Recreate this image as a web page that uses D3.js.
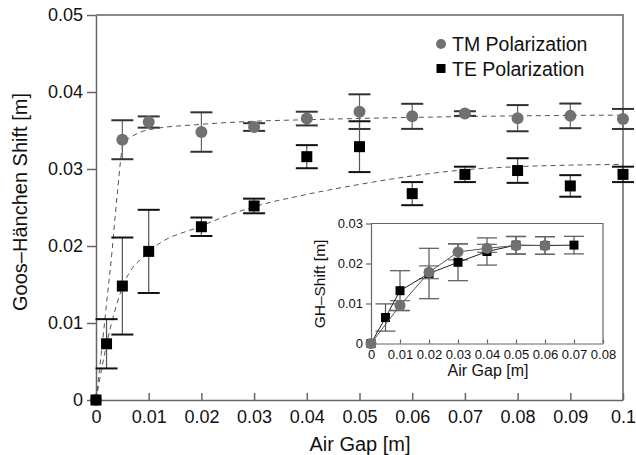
<!DOCTYPE html>
<html>
<head>
<meta charset="utf-8">
<script src="https://cdn.jsdelivr.net/npm/d3@7"></script>
<style>
  body { margin: 0; background: #fff; }
  svg { display: block; font-family: "Liberation Sans", Arial, sans-serif; }
</style>
</head>
<body>
<svg id="chart" width="636" height="455"></svg>
<script>
// main plot data
const tmX   = [0, 0.005, 0.01, 0.02, 0.03, 0.04, 0.05, 0.06, 0.07, 0.08, 0.09, 0.1];
const tmY   = [0, 0.0338, 0.0361, 0.0348, 0.03545, 0.03655, 0.03745, 0.03684, 0.0372, 0.0366, 0.0369, 0.0365];
const tmErr = [0, 0.00253, 0.00073, 0.00256, 0.0005, 0.00089, 0.00225, 0.00163, 0.0003, 0.0017, 0.0016, 0.0013];

const teX   = [0, 0.002, 0.005, 0.01, 0.02, 0.03, 0.04, 0.05, 0.06, 0.07, 0.08, 0.09, 0.1];
const teY   = [0, 0.0073, 0.0148, 0.0193, 0.0225, 0.0252, 0.0316, 0.0329, 0.0268, 0.0293, 0.0298, 0.0278, 0.0293];
const teErr = [0, 0.0032, 0.0063, 0.0054, 0.0012, 0.00095, 0.0015, 0.0033, 0.0015, 0.001, 0.0016, 0.0014, 0.001];

// dashed fit curves
const tmFitX = [0, 0.001, 0.002, 0.003, 0.004, 0.0052, 0.007, 0.01, 0.02, 0.03, 0.04, 0.06, 0.08, 0.1];
const tmFitY = [0, 0.006, 0.0125, 0.019, 0.0265, 0.0333, 0.0343, 0.0351, 0.0358, 0.0362, 0.0364, 0.0367, 0.0369, 0.037];
const teFitX = [0, 0.002, 0.005, 0.01, 0.02, 0.03, 0.04, 0.05, 0.06, 0.07, 0.08, 0.09, 0.1];
const teFitY = [0, 0.0072, 0.0146, 0.0192, 0.0226, 0.0251, 0.0267, 0.028, 0.0291, 0.0299, 0.0303, 0.0305, 0.0306];

// inset data
const inTmX   = [0, 0.01, 0.02, 0.03, 0.04, 0.05, 0.06];
const inTmY   = [0, 0.0095, 0.0178, 0.0229, 0.0238, 0.0245, 0.0245];
const inTmErr = [0, 0.0012, 0.0016, 0.002, 0.001, 0.0022, 0.0022];
const inTeX   = [0, 0.005, 0.01, 0.02, 0.03, 0.04, 0.05, 0.06, 0.07];
const inTeY   = [0, 0.0065, 0.0132, 0.0175, 0.0203, 0.023, 0.0246, 0.0245, 0.0246];
const inTeErr = [0, 0.0034, 0.005, 0.0063, 0.0046, 0.0034, 0.0022, 0.0022, 0.0022];

const mainXTicks = [0, 0.01, 0.02, 0.03, 0.04, 0.05, 0.06, 0.07, 0.08, 0.09, 0.1];
const mainYTicks = [0, 0.01, 0.02, 0.03, 0.04, 0.05];
const inXTicks = [0, 0.01, 0.02, 0.03, 0.04, 0.05, 0.06, 0.07, 0.08];
const inYTicks = [0, 0.01, 0.02, 0.03];

const TM_COL = "#717171";
const AX_COL = "#666";
const fmt = d => d3.format(".2~f")(d);

const svg = d3.select("#chart");

// ---- main plot ----
const x = d3.scaleLinear().domain([0, 0.1]).range([96, 623]);
const y = d3.scaleLinear().domain([0, 0.05]).range([400, 15]);

const zip = (xs, ys, es) => xs.map((v, i) => ({ x: v, y: ys[i], e: es ? es[i] : 0 }));

// frame (top + right)
svg.append("path")
    .attr("d", `M${x(0)},${y(0.05)}H${x(0.1)}V${y(0)}`)
    .attr("fill", "none").attr("stroke", AX_COL).attr("stroke-width", 1.5);

const xAxis = svg.append("g")
    .attr("transform", `translate(0,${y(0)})`)
    .call(d3.axisBottom(x).tickValues(mainXTicks).tickFormat(fmt).tickSize(-7).tickSizeOuter(0).tickPadding(10));
const yAxis = svg.append("g")
    .attr("transform", `translate(${x(0)},0)`)
    .call(d3.axisLeft(y).tickValues(mainYTicks).tickFormat(fmt).tickSize(9).tickSizeOuter(0).tickPadding(4));

[xAxis, yAxis].forEach(g => {
    g.select(".domain").attr("stroke", AX_COL).attr("stroke-width", 1.5);
    g.selectAll(".tick line").attr("stroke", AX_COL).attr("stroke-width", 1.5);
    g.selectAll(".tick text").attr("font-size", 18).attr("fill", "#111");
});

svg.append("text")
    .attr("x", 360).attr("y", 451)
    .attr("text-anchor", "middle").attr("font-size", 20).attr("fill", "#111")
    .text("Air Gap [m]");
svg.append("text")
    .attr("transform", `translate(27,202) rotate(-90)`)
    .attr("text-anchor", "middle").attr("font-size", 20).attr("fill", "#111")
    .text("Goos–Hänchen Shift [m]");

// fits
const fitLine = d3.line().x(d => x(d.x)).y(d => y(d.y)).curve(d3.curveMonotoneX);
[[tmFitX, tmFitY], [teFitX, teFitY]].forEach(([fx, fy]) => {
    svg.append("path")
        .datum(zip(fx, fy))
        .attr("d", fitLine)
        .attr("fill", "none").attr("stroke", "#555")
        .attr("stroke-width", 1).attr("stroke-dasharray", "5,4");
});

function errorBars(g, data, xs, ys, capW, vCol, cCol, cW) {
    const eb = g.append("g").selectAll("g")
        .data(data.filter(d => d.e > 0))
        .join("g");
    eb.append("line")
        .attr("x1", d => xs(d.x)).attr("x2", d => xs(d.x))
        .attr("y1", d => ys(d.y + d.e)).attr("y2", d => ys(d.y - d.e))
        .attr("stroke", vCol).attr("stroke-width", 1.2);
    [1, -1].forEach(s => {
        eb.append("line")
            .attr("x1", d => xs(d.x) - capW).attr("x2", d => xs(d.x) + capW)
            .attr("y1", d => ys(d.y + s * d.e)).attr("y2", d => ys(d.y + s * d.e))
            .attr("stroke", cCol).attr("stroke-width", cW);
    });
}

const tmData = zip(tmX, tmY, tmErr);
const teData = zip(teX, teY, teErr);

errorBars(svg, tmData, x, y, 11, "#666", "#333", 2);
errorBars(svg, teData, x, y, 11, "#555", "#111", 2);

svg.append("g").selectAll("circle")
    .data(tmData).join("circle")
    .attr("cx", d => x(d.x)).attr("cy", d => y(d.y)).attr("r", 6)
    .attr("fill", TM_COL);
svg.append("g").selectAll("rect")
    .data(teData).join("rect")
    .attr("x", d => x(d.x) - 5.5).attr("y", d => y(d.y) - 5.5)
    .attr("width", 11).attr("height", 11).attr("fill", "#000");

// legend
const leg = svg.append("g");
leg.append("circle").attr("cx", 441).attr("cy", 44).attr("r", 5).attr("fill", TM_COL);
leg.append("rect").attr("x", 436.5).attr("y", 64).attr("width", 9).attr("height", 9).attr("fill", "#000");
leg.append("text").attr("x", 452).attr("y", 50.5).attr("font-size", 19.5).attr("fill", "#111").text("TM Polarization");
leg.append("text").attr("x", 452).attr("y", 75.5).attr("font-size", 19.5).attr("fill", "#111").text("TE Polarization");

// ---- inset ----
const ix = d3.scaleLinear().domain([0, 0.08]).range([371, 603]);
const iy = d3.scaleLinear().domain([0, 0.03]).range([343.5, 223.5]);
const inset = svg.append("g");

inset.append("rect")
    .attr("x", ix(0)).attr("y", iy(0.03))
    .attr("width", ix(0.08) - ix(0)).attr("height", iy(0) - iy(0.03))
    .attr("fill", "#fff");
inset.append("path")
    .attr("d", `M${ix(0)},${iy(0.03)}H${ix(0.08)}V${iy(0)}`)
    .attr("fill", "none").attr("stroke", AX_COL).attr("stroke-width", 1.2);

const ixAxis = inset.append("g")
    .attr("transform", `translate(0,${iy(0)})`)
    .call(d3.axisBottom(ix).tickValues(inXTicks).tickFormat(fmt).tickSize(-4).tickSizeOuter(0).tickPadding(6));
const iyAxis = inset.append("g")
    .attr("transform", `translate(${ix(0)},0)`)
    .call(d3.axisLeft(iy).tickValues(inYTicks).tickFormat(fmt).tickSize(5).tickSizeOuter(0).tickPadding(3));
[ixAxis, iyAxis].forEach(g => {
    g.select(".domain").attr("stroke", AX_COL).attr("stroke-width", 1.2);
    g.selectAll(".tick line").attr("stroke", AX_COL).attr("stroke-width", 1.2);
    g.selectAll(".tick text").attr("font-size", 13).attr("fill", "#111");
});

inset.append("text")
    .attr("x", 488).attr("y", 375.5)
    .attr("text-anchor", "middle").attr("font-size", 16).attr("fill", "#111")
    .text("Air Gap [m]");
inset.append("text")
    .attr("transform", `translate(325,284) rotate(-90)`)
    .attr("text-anchor", "middle").attr("font-size", 15.5).attr("fill", "#111")
    .text("GH–Shift [m]");

const inTm = zip(inTmX, inTmY, inTmErr);
const inTe = zip(inTeX, inTeY, inTeErr);
const iLine = d3.line().x(d => ix(d.x)).y(d => iy(d.y));

errorBars(inset, inTe, ix, iy, 10, "#555", "#555", 1.2);
errorBars(inset, inTm, ix, iy, 10, "#666", "#666", 1.2);

inset.append("path").datum(inTe).attr("d", iLine)
    .attr("fill", "none").attr("stroke", "#222").attr("stroke-width", 1);
inset.append("g").selectAll("rect")
    .data(inTe).join("rect")
    .attr("x", d => ix(d.x) - 4.5).attr("y", d => iy(d.y) - 4.5)
    .attr("width", 9).attr("height", 9).attr("fill", "#000");

inset.append("path").datum(inTm).attr("d", iLine)
    .attr("fill", "none").attr("stroke", "#555").attr("stroke-width", 1);
inset.append("g").selectAll("circle")
    .data(inTm).join("circle")
    .attr("cx", d => ix(d.x)).attr("cy", d => iy(d.y)).attr("r", 5.5)
    .attr("fill", TM_COL);
</script>
</body>
</html>
